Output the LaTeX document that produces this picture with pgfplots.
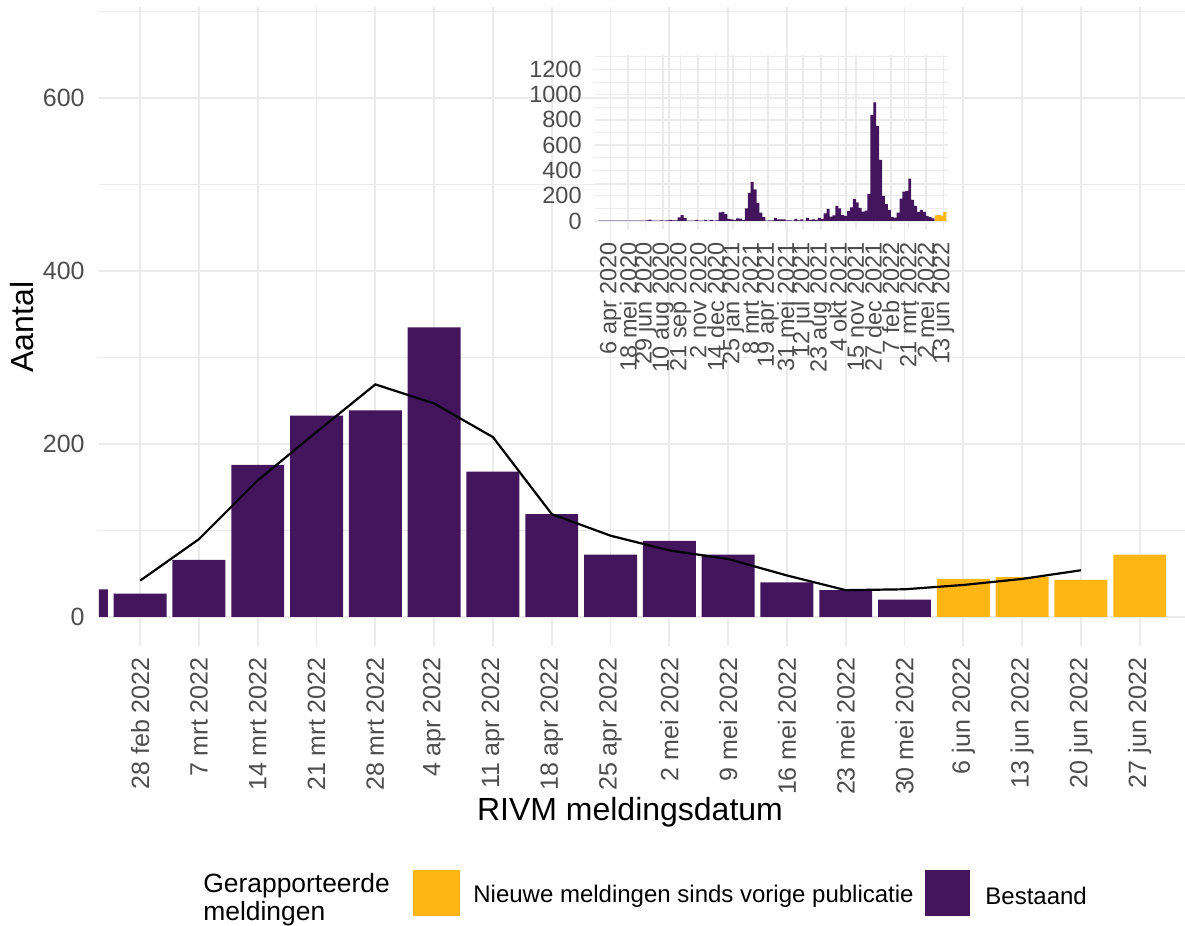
\documentclass[border=0pt]{standalone}
\usepackage{fontspec}
\setmainfont{Liberation Sans}
\usepackage{pgfplots}
\usepackage{pgfplotstable}
\pgfplotsset{compat=1.18}

\definecolor{paars}{HTML}{43155C}
\definecolor{geel}{HTML}{FDB614}
\definecolor{rooster}{HTML}{EBEBEB}
\definecolor{tekst}{HTML}{4D4D4D}

% main chart: weeks, 0 = 28 feb 2022
\pgfplotstableread{
x y
-1 32
0 27
1 66
2 176
3 233
4 239
5 335
6 168
7 119
8 72
9 88
10 72
11 40
12 31
13 20
}\bestaand
\pgfplotstableread{
x y
14 44
15 46
16 43
17 72
}\nieuw
\pgfplotstableread{
x y
0 42
1 90
2 158
3 214
4 269
5 247
6 208
7 119
8 94
9 77
10 67
11 48
12 31
13 32
14 37
15 44
16 54
}\gemiddeld

% inset: all weeks since march 2020
\pgfplotstableread{
x y
-4 2
-3 2
-2 2
-1 2
0 2
1 2
2 2
3 2
4 2
5 2
6 2
7 3
8 2
9 3
10 2
11 3
12 4
13 10
14 3
15 3
16 3
17 4
18 3
19 5
20 8
21 4
22 5
23 29
24 47
25 24
26 3
27 2
28 3
29 8
30 3
31 3
32 8
33 3
34 8
35 3
36 4
37 68
38 72
39 55
40 16
41 13
42 8
43 21
44 18
45 8
46 100
47 222
48 310
49 250
50 142
51 67
52 30
53 3
54 5
55 5
56 24
57 13
58 13
59 13
60 5
61 5
62 3
63 16
64 5
65 13
66 3
67 24
68 8
69 13
70 8
71 24
72 16
73 61
74 95
75 34
76 45
77 119
78 100
79 47
80 40
81 79
82 108
83 174
84 148
85 103
86 74
87 82
88 214
89 839
90 939
91 752
92 483
93 198
94 134
95 87
96 32
97 27
98 66
99 176
100 233
101 239
102 335
103 168
104 119
105 72
106 88
107 72
108 40
109 31
110 20
}\histB
\pgfplotstableread{
x y
111 44
112 46
113 43
114 72
}\histN

\begin{document}
\begin{tikzpicture}
\useasboundingbox (-49.5pt,-140pt) rectangle (543pt,323pt);

\begin{axis}[
    at={(0pt,0pt)}, anchor=south west,
    scale only axis,
    width=543pt, height=319.5pt,
    xmin=-0.70, xmax=17.77,
    ymin=-33.6, ymax=705.6,
    axis line style={draw=none},
    major tick length=0pt, minor tick length=0pt,
    xtick={0,...,17},
    xticklabels={28 feb 2022, 7 mrt 2022, 14 mrt 2022, 21 mrt 2022, 28 mrt 2022, 4 apr 2022, 11 apr 2022, 18 apr 2022, 25 apr 2022, 2 mei 2022, 9 mei 2022, 16 mei 2022, 23 mei 2022, 30 mei 2022, 6 jun 2022, 13 jun 2022, 20 jun 2022, 27 jun 2022},
    ytick={0,200,400,600},
    minor ytick={100,300,500,700},
    grid=both,
    major grid style={rooster, line width=0.9pt},
    minor grid style={rooster, line width=0.45pt},
    /pgf/number format/assume math mode=true,
    tick label style={font=\fontsize{12.5}{15}\selectfont, text=tekst},
    yticklabel style={anchor=east, inner sep=0pt, xshift=-7pt},
    xticklabel style={yshift=-5.5pt, rotate=90, anchor=east, inner sep=0pt},
]
\addplot[ybar, bar width=0.9, bar shift=0pt, fill=paars, draw=none] table {\bestaand};
\addplot[ybar, bar width=0.9, bar shift=0pt, fill=geel, draw=none] table {\nieuw};
\addplot[black, line width=1.1pt, mark=none] table {\gemiddeld};
\end{axis}

% inset
\begin{axis}[
    at={(248pt,208.55pt)}, anchor=south west,
    scale only axis,
    width=176.5pt, height=86.9pt,
    xmin=-5.85, xmax=115.1,
    ymin=-62.5, ymax=1312.5,
    axis line style={draw=none},
    major tick length=0pt, minor tick length=0pt,
    xtick={-0.5,5.5,...,113.5},
    xticklabels={6 apr 2020, 18 mei 2020, 29 jun 2020, 10 aug 2020, 21 sep 2020, 2 nov 2020, 14 dec 2020, 25 jan 2021, 8 mrt 2021, 19 apr 2021, 31 mei 2021, 12 jul 2021, 23 aug 2021, 4 okt 2021, 15 nov 2021, 27 dec 2021, 7 feb 2022, 21 mrt 2022, 2 mei 2022, 13 jun 2022},
    ytick={0,200,...,1200},
    minor ytick={100,300,...,1300},
    grid=both,
    major grid style={rooster, line width=0.75pt},
    minor grid style={rooster, line width=0.4pt},
    /pgf/number format/assume math mode=true,
    /pgf/number format/1000 sep={},
    tick label style={font=\fontsize{11.75}{14}\selectfont, text=tekst},
    yticklabel style={anchor=east, inner sep=0pt, xshift=-6.5pt},
    xticklabel style={yshift=-6.4pt, rotate=90, anchor=east, inner sep=0pt},
]
\addplot[ybar, bar width=1, bar shift=0pt, fill=paars, draw=none] table {\histB};
\addplot[ybar, bar width=1, bar shift=0pt, fill=geel, draw=none] table {\histN};
\end{axis}

% axis titles
\node[rotate=90, inner sep=0pt, font=\fontsize{16}{19}\selectfont] at (-38.5pt,159.5pt) {Aantal};
\node[inner sep=0pt, font=\fontsize{16}{19}\selectfont] at (265.5pt,-83pt) {RIVM meldingsdatum};

% legend
\node[anchor=west, align=left, inner sep=0pt, font=\fontsize{13.2}{14}\selectfont] at (52pt,-127pt) {Gerapporteerde\\meldingen};
\fill[geel] (157pt,-112pt) rectangle (180.5pt,-135pt);
\node[anchor=west, inner sep=0pt, font=\fontsize{12}{14}\selectfont] at (187pt,-125pt) {Nieuwe meldingen sinds vorige publicatie};
\fill[paars] (413pt,-112pt) rectangle (435.5pt,-135pt);
\node[anchor=west, inner sep=0pt, font=\fontsize{12}{14}\selectfont] at (443pt,-125pt) {Bestaand};
\end{tikzpicture}
\end{document}
